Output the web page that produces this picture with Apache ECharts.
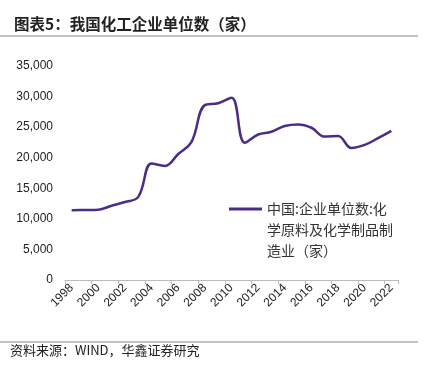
<!DOCTYPE html>
<html>
<head>
<meta charset="utf-8">
<script src="https://cdn.jsdelivr.net/npm/echarts@6/dist/echarts.min.js"></script>
<style>
  html, body { margin: 0; padding: 0; background: #fff; }
  #chart { width: 425px; height: 366px; }
</style>
</head>
<body>
<div id="chart"></div>
<script>
const years = ["1998", "1999", "2000", "2001", "2002", "2003", "2004", "2005", "2006", "2007", "2008", "2009", "2010",
  "2011", "2012", "2013", "2014", "2015", "2016", "2017", "2018", "2019", "2020", "2021", "2022"];
const companies = [11400, 11450, 11500, 12150, 12750, 13600, 19050, 18650, 20600, 22600, 28600, 28900, 29800,
  22450, 23800, 24250, 25200, 25450, 24900, 23450, 23550, 21600, 22100, 23200, 24400];
const yTicks = [0, 5000, 10000, 15000, 20000, 25000, 30000, 35000];
const seriesName = "中国:企业单位数:化\n学原料及化学制品制\n造业（家）";

const chart = echarts.init(document.getElementById("chart"));
const font = "'Noto Sans CJK SC', sans-serif";

let option = {
  animation: false,
  title: {
    text: "图表5：我国化工企业单位数（家）",
    left: 9,
    top: 11,
    textStyle: {
      fontFamily: font,
      fontSize: 15.5,
      fontWeight: "bold",
      color: "#222",
    },
  },
  graphic: [
    {
      type: "line",
      shape: { x1: 0, y1: 36, x2: 418, y2: 36 },
      style: { stroke: "#888", lineWidth: 1 },
    },
    {
      type: "line",
      shape: { x1: 0, y1: 342, x2: 418, y2: 342 },
      style: { stroke: "#888", lineWidth: 1 },
    },
    {
      type: "text",
      left: 10,
      top: 344,
      style: {
        text: "资料来源：WIND，华鑫证券研究",
        fontFamily: font,
        fontSize: 13,
        fill: "#222",
      },
    },
  ],
  legend: {
    left: 229,
    top: 198.5,
    padding: 0,
    itemWidth: 33,
    itemHeight: 63,
    itemGap: 5,
    // line marker sits beside the first text line only
    icon: "path://M0,0L0,0M0,9H33V12H0ZM0,63L0,63",
    textStyle: {
      fontFamily: font,
      fontSize: 14,
      lineHeight: 21,
      color: "#333",
    },
    data: [seriesName],
  },
  grid: {
    left: 65,
    right: 27,
    top: 66,
    bottom: 86,
  },
  xAxis: {
    type: "category",
    data: years,
    boundaryGap: true,
    axisLine: {
      lineStyle: { color: "#bbb", width: 1 },
    },
    axisTick: {
      show: true,
      interval: 1,
      length: 4,
      lineStyle: { color: "#bbb" },
    },
    axisLabel: {
      interval: 1,
      rotate: 45,
      color: "#222",
      fontFamily: "'Liberation Sans', Arial, sans-serif",
      fontSize: 12,
      margin: 6,
    },
  },
  yAxis: {
    type: "value",
    min: yTicks[0],
    max: yTicks[yTicks.length - 1],
    interval: 5000,
    axisLine: { show: false },
    axisTick: { show: false },
    splitLine: { show: false },
    axisLabel: {
      color: "#222",
      fontFamily: "'Liberation Sans', Arial, sans-serif",
      fontSize: 12,
      margin: 12,
      formatter: (v) => v.toLocaleString("en-US"),
    },
  },
  series: [
    {
      name: seriesName,
      type: "line",
      data: companies,
      smooth: 0.4,
      showSymbol: false,
      lineStyle: { color: "#4b2c86", width: 2.5 },
      itemStyle: { color: "#4b2c86" },
    },
  ],
};

chart.setOption(option);
</script>
</body>
</html>
